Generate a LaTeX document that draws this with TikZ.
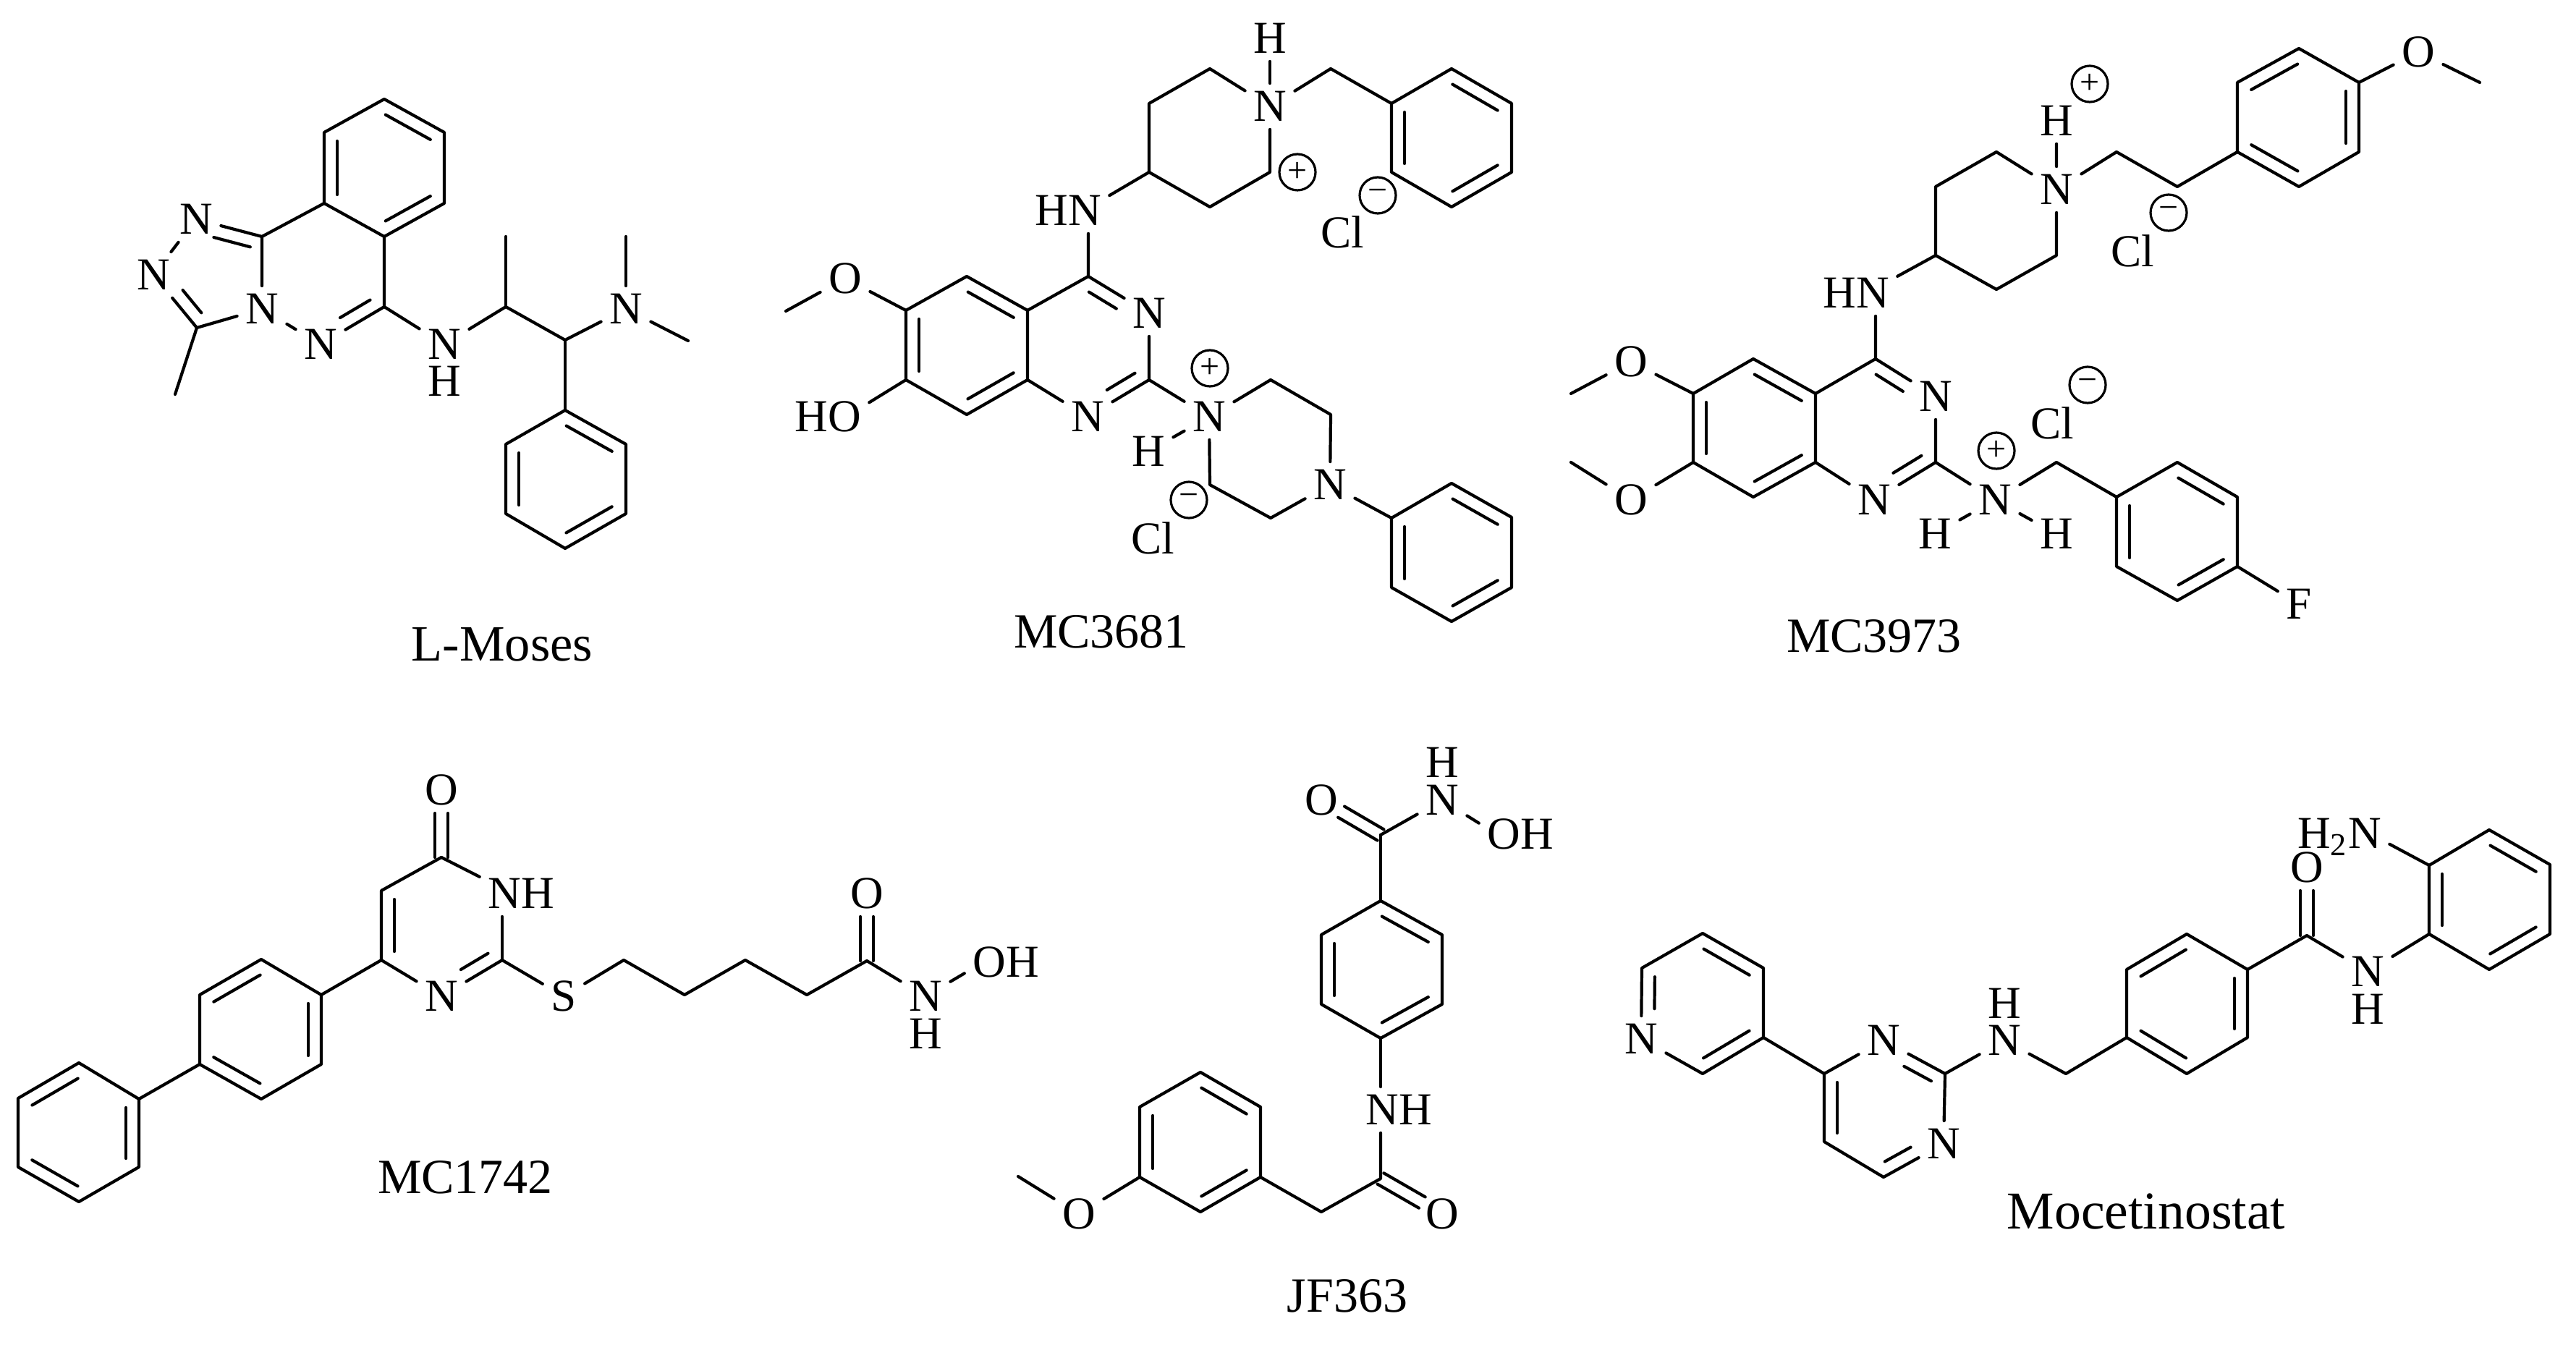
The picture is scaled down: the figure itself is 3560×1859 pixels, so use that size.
\documentclass[tikz,border=0pt]{standalone}
\usepackage{fontspec}
\setmainfont{Liberation Serif}
\usetikzlibrary{calc}

\tikzset{
  bond/.style={line width=1.05pt,line cap=round,line join=round},
  atom/.style={inner xsep=2.7pt,inner ysep=2.6pt,font=\fontsize{15.8}{15.8}\selectfont},
  charge/.style={circle,draw,line width=0.8pt,inner sep=0pt,minimum size=12.5pt,font=\fontsize{12}{12}\selectfont},
  molname/.style={inner sep=0pt,font=\fontsize{17}{17}\selectfont},
  fromatom/.style={shorten <=10.5pt},
  toatom/.style={shorten >=10.5pt}
}

% inner line of a double bond, on the left of the direction first -> second
\newcommand{\innerbond}[3][]{\draw[bond,shorten <=3pt,shorten >=3pt,#1] ($(#2)!4.5pt!-90:(#3)$) -- ($(#3)!4.5pt!90:(#2)$);}
% carbonyl: two lines either side of the axis, second name is the oxygen
\newcommand{\twobond}[2]{%
  \draw[bond,shorten >=8pt] ($(#1)!2.2pt!90:(#2)$) -- ($(#2)!2.2pt!-90:(#1)$);
  \draw[bond,shorten >=8pt] ($(#1)!2.2pt!-90:(#2)$) -- ($(#2)!2.2pt!90:(#1)$);}

\begin{document}
\begin{tikzpicture}[x=0.25pt,y=0.25pt,yscale=-1,xscale=1]
\useasboundingbox (0,0) rectangle (3560,1859);

% L-Moses
\coordinate (a1) at (531,137); \coordinate (a2) at (614,183); \coordinate (a3) at (614,281);
\coordinate (a4) at (531,327); \coordinate (a5) at (448,281); \coordinate (a6) at (448,183);
\coordinate (a7) at (362,327); \coordinate (a8) at (531,424); \coordinate (a9) at (272,453);
\coordinate (a10) at (242,545); \coordinate (a11) at (699,424); \coordinate (a12) at (699,327);
\coordinate (a13) at (781,470); \coordinate (a14) at (865,327); \coordinate (a15) at (951,471);
\coordinate (a16) at (781,567); \coordinate (a17) at (865,614); \coordinate (a18) at (865,710);
\coordinate (a19) at (781,758); \coordinate (a20) at (699,710); \coordinate (a21) at (699,614);
\node[atom] (aN1) at (362,427) {N};
\node[atom] (aN2) at (443,476) {N};
\node[atom] (aN3) at (271,303) {N};
\node[atom] (aN4) at (212,380) {N};
\node[atom] (aN5) at (614,476) {N};
\node[atom] (aH) at (614,527) {H};
\node[atom] (aN6) at (865,427) {N};
\draw[bond] (a1) -- (a2) -- (a3) -- (a4) -- (a5) -- (a6) -- cycle;
\draw[bond] (a5) -- (a7) -- (aN1) -- (aN2) -- (a8) -- (a4);
\draw[bond] (aN1) -- (a9) -- (aN4) -- (aN3) -- (a7);
\draw[bond] (a9) -- (a10);
\draw[bond] (a8) -- (aN5) -- (a11) -- (a13) -- (aN6) -- (a15);
\draw[bond] (a11) -- (a12);
\draw[bond] (aN6) -- (a14);
\draw[bond] (a13) -- (a16);
\draw[bond] (a16) -- (a17) -- (a18) -- (a19) -- (a20) -- (a21) -- cycle;
\innerbond{a2}{a1}
\innerbond{a6}{a5}
\innerbond{a4}{a3}
\innerbond[shorten >=7.5pt]{a7}{aN3}
\innerbond[fromatom]{aN4}{a9}
\innerbond[fromatom]{aN2}{a8}
\innerbond{a17}{a16}
\innerbond{a21}{a20}
\innerbond{a19}{a18}
\node[molname,font=\fontsize{17.6}{17.6}\selectfont] (aname) at (694,891) {L-Moses};

% MC3681
\coordinate (b1) at (1672,95); \coordinate (b2) at (1588,143); \coordinate (b3) at (1588,238);
\coordinate (b4) at (1672,286); \coordinate (b5) at (1755,238); \coordinate (b6) at (1839,95);
\coordinate (b7) at (1923,143); \coordinate (b8) at (2006,95); \coordinate (b9) at (2089,143);
\coordinate (b10) at (2089,238); \coordinate (b11) at (2006,286); \coordinate (b12) at (1923,238);
\coordinate (b13) at (1504,382); \coordinate (b14) at (1420,429); \coordinate (b15) at (1336,382);
\coordinate (b16) at (1252,429); \coordinate (b17) at (1252,525); \coordinate (b18) at (1336,573);
\coordinate (b19) at (1420,525); \coordinate (b20) at (1588,525); \coordinate (b21) at (1086,430);
\coordinate (b22) at (1756,525); \coordinate (b23) at (1839,573); \coordinate (b24) at (1756,716);
\coordinate (b25) at (1672,670); \coordinate (b26) at (1923,716); \coordinate (b27) at (2006,668);
\coordinate (b28) at (2089,715); \coordinate (b29) at (2089,812); \coordinate (b30) at (2006,859);
\coordinate (b31) at (1923,812);
\node[atom] (bN1) at (1755,147) {N};
\node[atom] (bH1) at (1755,53) {H};
\node[atom] (bHN) at (1476,291) {HN};
\node[atom] (bN2) at (1588,433) {N};
\node[atom] (bN3) at (1503,576) {N};
\node[atom] (bO) at (1168,385) {O};
\node[atom] (bHO) at (1144,576) {HO};
\node[atom] (bN4) at (1671,576) {N};
\node[atom] (bH2) at (1587,624) {H};
\node[atom] (bN5) at (1838,670) {N};
\node[charge] (bP1) at (1793,238) {+};
\node[charge] (bM1) at (1904,270) {−};
\node[atom] (bCl1) at (1855,321) {Cl};
\node[charge] (bP2) at (1672,509) {+};
\node[charge] (bM2) at (1643,691) {−};
\node[atom] (bCl2) at (1593,744) {Cl};
\draw[bond] (bN1) -- (b1) -- (b2) -- (b3) -- (b4) -- (b5) -- (bN1) -- (b6) -- (b7);
\draw[bond] (bN1) -- (bH1);
\draw[bond] (b7) -- (b8) -- (b9) -- (b10) -- (b11) -- (b12) -- cycle;
\draw[bond] (b3) -- (bHN.20);
\draw[bond] (b13 |- bHN.south) -- (b13) -- (b14);
\draw[bond] (b14) -- (b15) -- (b16) -- (b17) -- (b18) -- (b19) -- cycle;
\draw[bond] (b13) -- (bN2) -- (b20) -- (bN3) -- (b19);
\draw[bond] (b16) -- (bO) -- (b21);
\draw[bond] (b17) -- (bHO.19);
\draw[bond] (b20) -- (bN4) -- (b22) -- (b23) -- (bN5) -- (b24) -- (b25) -- (bN4) -- (bH2);
\draw[bond] (bN5) -- (b26);
\draw[bond] (b26) -- (b27) -- (b28) -- (b29) -- (b30) -- (b31) -- cycle;
\innerbond{b9}{b8}
\innerbond{b7}{b12}
\innerbond{b11}{b10}
\innerbond{b14}{b15}
\innerbond{b16}{b17}
\innerbond{b18}{b19}
\innerbond[fromatom]{bN2}{b13}
\innerbond[fromatom]{bN3}{b20}
\innerbond{b28}{b27}
\innerbond{b26}{b31}
\innerbond{b30}{b29}
\node[molname] (bname) at (1522,873) {MC3681};

% MC3973
\coordinate (c1) at (3260,114); \coordinate (c2) at (3177,67); \coordinate (c3) at (3092,114);
\coordinate (c4) at (3092,210); \coordinate (c5) at (3177,258); \coordinate (c6) at (3260,210);
\coordinate (c7) at (3427,114); \coordinate (c8) at (3009,258); \coordinate (c9) at (2925,210);
\coordinate (c10) at (2759,210); \coordinate (c11) at (2675,258); \coordinate (c12) at (2675,353);
\coordinate (c13) at (2759,400); \coordinate (c14) at (2842,353); \coordinate (c15) at (2592,496);
\coordinate (c16) at (2509,544); \coordinate (c17) at (2423,496); \coordinate (c18) at (2340,544);
\coordinate (c19) at (2340,639); \coordinate (c20) at (2423,687); \coordinate (c21) at (2509,639);
\coordinate (c22) at (2675,639); \coordinate (c23) at (2171,544); \coordinate (c24) at (2171,639);
\coordinate (c25) at (2842,639); \coordinate (c26) at (2925,687); \coordinate (c27) at (3009,639);
\coordinate (c28) at (3092,687); \coordinate (c29) at (3092,783); \coordinate (c30) at (3009,830);
\coordinate (c31) at (2925,783);
\node[atom] (cO1) at (3342,72) {O};
\node[atom] (cN1) at (2842,262) {N};
\node[atom] (cH1) at (2842,167) {H};
\node[atom] (cHN) at (2565,405) {HN};
\node[atom] (cN2) at (2675,548) {N};
\node[atom] (cN3) at (2590,691) {N};
\node[atom] (cO2) at (2254,500) {O};
\node[atom] (cO3) at (2254,691) {O};
\node[atom] (cN4) at (2757,691) {N};
\node[atom] (cH2) at (2674,738) {H};
\node[atom] (cH3) at (2842,738) {H};
\node[atom] (cF) at (3177,835) {F};
\node[charge] (cP1) at (2888,116) {+};
\node[charge] (cM1) at (2997,294) {−};
\node[atom] (cCl1) at (2947,347) {Cl};
\node[charge] (cP2) at (2759,623) {+};
\node[charge] (cM2) at (2885,532) {−};
\node[atom] (cCl2) at (2836,585) {Cl};
\draw[bond] (c1) -- (c2) -- (c3) -- (c4) -- (c5) -- (c6) -- cycle;
\draw[bond] (c7) -- (cO1) -- (c1);
\draw[bond] (c4) -- (c8) -- (c9) -- (cN1) -- (c10) -- (c11) -- (c12) -- (c13) -- (c14) -- (cN1) -- (cH1);
\draw[bond] (c12) -- (cHN.22);
\draw[bond] (c15 |- cHN.south) -- (c15) -- (c16);
\draw[bond] (c16) -- (c17) -- (c18) -- (c19) -- (c20) -- (c21) -- cycle;
\draw[bond] (c15) -- (cN2) -- (c22) -- (cN3) -- (c21);
\draw[bond] (c18) -- (cO2) -- (c23);
\draw[bond] (c19) -- (cO3) -- (c24);
\draw[bond] (c22) -- (cN4) -- (c25) -- (c26);
\draw[bond] (cH2) -- (cN4) -- (cH3);
\draw[bond] (c26) -- (c27) -- (c28) -- (c29) -- (c30) -- (c31) -- cycle;
\draw[bond] (c29) -- (cF);
\innerbond{c2}{c3}
\innerbond{c4}{c5}
\innerbond{c6}{c1}
\innerbond{c16}{c17}
\innerbond{c18}{c19}
\innerbond{c20}{c21}
\innerbond[fromatom]{cN2}{c15}
\innerbond[fromatom]{cN3}{c22}
\innerbond{c28}{c27}
\innerbond{c26}{c31}
\innerbond{c30}{c29}
\node[molname] (cname) at (2590,879) {MC3973};

% MC1742
\coordinate (d1) at (610,1185); \coordinate (d2) at (694,1327); \coordinate (d3) at (527,1327);
\coordinate (d4) at (527,1231); \coordinate (d5) at (444,1375); \coordinate (d6) at (361,1326);
\coordinate (d7) at (276,1375); \coordinate (d8) at (276,1471); \coordinate (d9) at (361,1519);
\coordinate (d10) at (444,1471); \coordinate (d11) at (192,1519); \coordinate (d12) at (109,1469);
\coordinate (d13) at (25,1518); \coordinate (d14) at (25,1613); \coordinate (d15) at (109,1661);
\coordinate (d16) at (192,1613); \coordinate (d17) at (862,1327); \coordinate (d18) at (946,1375);
\coordinate (d19) at (1030,1327); \coordinate (d20) at (1115,1375); \coordinate (d21) at (1198,1328);
\node[atom] (dO1) at (610,1092) {O};
\node[atom] (dNH) at (720,1235) {NH};
\node[atom] (dN1) at (610,1377) {N};
\node[atom] (dS) at (779,1377) {S};
\node[atom] (dO2) at (1198,1235) {O};
\node[atom] (dN2) at (1279,1377) {N};
\node[atom] (dH) at (1279,1429) {H};
\node[atom] (dOH) at (1390,1330) {OH};
\draw[bond] (d1) -- (d4) -- (d3) -- (dN1) -- (d2);
\draw[bond] (d1) -- (dNH.158);
\draw[bond] (d2) -- (d2 |- dNH.south);
\draw[bond] (d3) -- (d5);
\draw[bond] (d5) -- (d6) -- (d7) -- (d8) -- (d9) -- (d10) -- cycle;
\draw[bond] (d8) -- (d11);
\draw[bond] (d11) -- (d12) -- (d13) -- (d14) -- (d15) -- (d16) -- cycle;
\draw[bond] (d2) -- (dS) -- (d17) -- (d18) -- (d19) -- (d20) -- (d21) -- (dN2);
\draw[bond] (dN2) -- (dOH.195);
\twobond{d1}{dO1}
\twobond{d21}{dO2}
\innerbond{d4}{d3}
\innerbond[fromatom]{dN1}{d2}
\innerbond{d6}{d7}
\innerbond{d8}{d9}
\innerbond{d10}{d5}
\innerbond{d12}{d13}
\innerbond{d14}{d15}
\innerbond{d16}{d11}
\node[molname] (dname) at (643,1627) {MC1742};

% JF363
\coordinate (e1) at (1908,1154); \coordinate (e2) at (1908,1245); \coordinate (e3) at (1993,1292);
\coordinate (e4) at (1993,1388); \coordinate (e5) at (1908,1435); \coordinate (e6) at (1826,1388);
\coordinate (e7) at (1826,1292); \coordinate (e8) at (1908,1629); \coordinate (e9) at (1826,1675);
\coordinate (e10) at (1742,1627); \coordinate (e11) at (1742,1530); \coordinate (e12) at (1659,1482);
\coordinate (e13) at (1575,1530); \coordinate (e14) at (1575,1627); \coordinate (e15) at (1659,1675);
\coordinate (e16) at (1407,1626);
\node[atom] (eH) at (1993,1054) {H};
\node[atom] (eN1) at (1993,1106) {N};
\node[atom] (eO1) at (1826,1106) {O};
\node[atom] (eOH) at (2101,1153) {OH};
\node[atom] (eNH) at (1933,1534) {NH};
\node[atom] (eO2) at (1993,1678) {O};
\node[atom] (eO3) at (1491,1678) {O};
\draw[bond] (e1) -- (eN1);
\draw[bond] (eN1) -- (eOH.165);
\draw[bond] (e1) -- (e2);
\draw[bond] (e2) -- (e3) -- (e4) -- (e5) -- (e6) -- (e7) -- cycle;
\draw[bond] (e5) -- (e5 |- eNH.north);
\draw[bond] (e8 |- eNH.south) -- (e8) -- (e9) -- (e10);
\draw[bond] (e10) -- (e11) -- (e12) -- (e13) -- (e14) -- (e15) -- cycle;
\draw[bond] (e14) -- (eO3) -- (e16);
\twobond{e1}{eO1}
\twobond{e8}{eO2}
\innerbond{e3}{e2}
\innerbond{e7}{e6}
\innerbond{e5}{e4}
\innerbond{e11}{e12}
\innerbond{e13}{e14}
\innerbond{e15}{e10}
\node[molname] (ename) at (1862,1791) {JF363};

% Mocetinostat
\coordinate (f1) at (3188,1293); \coordinate (f2) at (3357,1196); \coordinate (f3) at (3440,1147);
\coordinate (f4) at (3524,1195); \coordinate (f5) at (3524,1291); \coordinate (f6) at (3440,1340);
\coordinate (f7) at (3357,1291); \coordinate (f8) at (3106,1340); \coordinate (f9) at (3022,1291);
\coordinate (f10) at (2939,1340); \coordinate (f11) at (2939,1434); \coordinate (f12) at (3022,1484);
\coordinate (f13) at (3106,1434); \coordinate (f14) at (2855,1484); \coordinate (f15) at (2688,1484);
\coordinate (f16) at (2521,1484); \coordinate (f17) at (2521,1578); \coordinate (f18) at (2603,1627);
\coordinate (f19) at (2437,1434); \coordinate (f20) at (2437,1338); \coordinate (f21) at (2353,1290);
\coordinate (f22) at (2269,1338); \coordinate (f23) at (2353,1484);
\node[atom,text depth=0pt] (fH2N) at (3233,1152) {H\textsubscript{2}N};
\node[atom] (fO) at (3188,1199) {O};
\node[atom] (fN1) at (3272,1343) {N};
\node[atom] (fH1) at (3272,1395) {H};
\node[atom] (fN2) at (2770,1438) {N};
\node[atom] (fH2) at (2770,1387) {H};
\node[atom] (fN3) at (2603,1438) {N};
\node[atom] (fN4) at (2686,1581) {N};
\node[atom] (fN5) at (2268,1436) {N};
\draw[bond] (f2) -- (f3) -- (f4) -- (f5) -- (f6) -- (f7) -- cycle;
\draw[bond] (f2) -- (fH2N.348);
\draw[bond] (f8) -- (f1) -- (fN1) -- (f7);
\draw[bond] (f8) -- (f9) -- (f10) -- (f11) -- (f12) -- (f13) -- cycle;
\draw[bond] (f11) -- (f14) -- (fN2) -- (f15) -- (fN3) -- (f16) -- (f17) -- (f18) -- (fN4) -- (f15);
\draw[bond] (f16) -- (f19) -- (f20) -- (f21) -- (f22) -- (fN5) -- (f23) -- (f19);
\twobond{f1}{fO}
\innerbond{f4}{f3}
\innerbond{f2}{f7}
\innerbond{f6}{f5}
\innerbond{f9}{f10}
\innerbond{f11}{f12}
\innerbond{f13}{f8}
\innerbond[toatom]{f15}{fN3}
\innerbond{f16}{f17}
\innerbond[toatom]{f18}{fN4}
\innerbond{f20}{f21}
\innerbond[toatom]{f22}{fN5}
\innerbond{f23}{f19}
\node[molname,font=\fontsize{18.4}{18.4}\selectfont] (fname) at (2966,1674) {Mocetinostat};

\end{tikzpicture}
\end{document}
